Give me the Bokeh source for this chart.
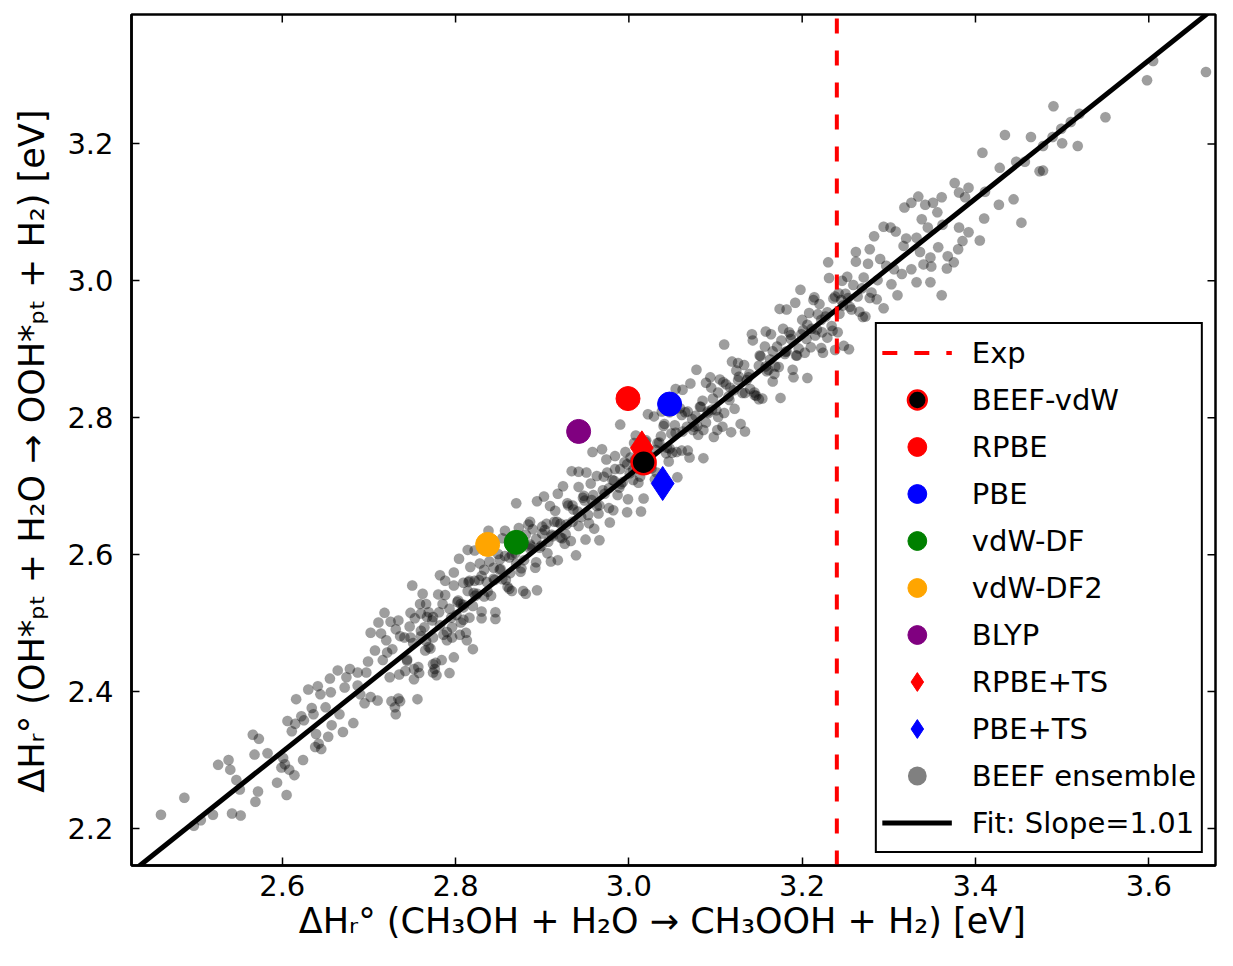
import math
from bokeh.plotting import figure
from bokeh.models import (Range1d, Legend, LegendItem,
                          FixedTicker, NumeralTickFormatter, ColumnDataSource)
from bokeh.embed import file_html
from bokeh.resources import INLINE

# ---------------- data ----------------
x_ticks = [2.6, 2.8, 3.0, 3.2, 3.4, 3.6]
y_ticks = [2.2, 2.4, 2.6, 2.8, 3.0, 3.2]
x_limits = (2.426, 3.677)
y_limits = (2.146, 3.389)

exp_value = 3.24
fit_slope = 1.01
fit_intercept = -0.314

methods = ["BEEF-vdW", "RPBE", "PBE", "vdW-DF", "vdW-DF2", "BLYP", "RPBE+TS", "PBE+TS"]
method_x = [3.017, 2.999, 3.047, 2.870, 2.837, 2.942, 3.015, 3.039]
method_y = [2.735, 2.828, 2.820, 2.618, 2.615, 2.780, 2.756, 2.704]

# BEEF ensemble points (x, y)
ensemble_lower = [
    (2.460, 2.220), (2.487, 2.245), (2.498, 2.204), (2.506, 2.212), (2.520, 2.220),
    (2.526, 2.293), (2.538, 2.300), (2.540, 2.286), (2.542, 2.222), (2.547, 2.271),
    (2.551, 2.257), (2.552, 2.219), (2.566, 2.337), (2.573, 2.331), (2.569, 2.239),
    (2.572, 2.254), (2.568, 2.308), (2.583, 2.310), (2.594, 2.267), (2.601, 2.303),
    (2.603, 2.294), (2.599, 2.289), (2.605, 2.249), (2.608, 2.286), (2.614, 2.278),
    (2.611, 2.342), (2.606, 2.357), (2.616, 2.389), (2.624, 2.300), (2.615, 2.353),
    (2.622, 2.364), (2.625, 2.358), (2.630, 2.403), (2.634, 2.376), (2.636, 2.367),
    (2.639, 2.338), (2.638, 2.319), (2.642, 2.324), (2.645, 2.316), (2.641, 2.408),
    (2.644, 2.396), (2.650, 2.377), (2.653, 2.334), (2.655, 2.419), (2.656, 2.399),
    (2.657, 2.351), (2.664, 2.431), (2.666, 2.367), (2.670, 2.341), (2.672, 2.406),
    (2.674, 2.421), (2.678, 2.433), (2.682, 2.354), (2.687, 2.428), (2.687, 2.409),
    (2.690, 2.396), (2.695, 2.383), (2.697, 2.428), (2.699, 2.444), (2.702, 2.392),
    (2.707, 2.460), (2.711, 2.501), (2.714, 2.485), (2.716, 2.446), (2.720, 2.475),
    (2.721, 2.457), (2.724, 2.421), (2.725, 2.502), (2.727, 2.462), (2.731, 2.491),
    (2.730, 2.377), (2.731, 2.367), (2.734, 2.390), (2.736, 2.386), (2.735, 2.425),
    (2.736, 2.481), (2.744, 2.447), (2.747, 2.495), (2.748, 2.479), (2.752, 2.418),
    (2.752, 2.433), (2.756, 2.389), (2.759, 2.528), (2.760, 2.514), (2.764, 2.494),
    (2.765, 2.460), (2.769, 2.465), (2.773, 2.504), (2.774, 2.440), (2.776, 2.433),
    (2.778, 2.424), (2.784, 2.446), (2.786, 2.483), (2.793, 2.427), (2.796, 2.494),
    (2.798, 2.450), (2.805, 2.483), (2.809, 2.527), (2.816, 2.508), (2.820, 2.462),
    (2.813, 2.475),
]
ensemble_middle = [
    (2.741, 2.479), (2.744, 2.445), (2.748, 2.515), (2.751, 2.471), (2.753, 2.507),
    (2.757, 2.436), (2.760, 2.489), (2.762, 2.543), (2.766, 2.474), (2.769, 2.516),
    (2.771, 2.463), (2.774, 2.509), (2.777, 2.442), (2.780, 2.542), (2.782, 2.497),
    (2.785, 2.528), (2.788, 2.562), (2.790, 2.487), (2.793, 2.521), (2.796, 2.479),
    (2.798, 2.555), (2.801, 2.512), (2.804, 2.594), (2.806, 2.528), (2.809, 2.559),
    (2.812, 2.486), (2.814, 2.547), (2.817, 2.582), (2.820, 2.525), (2.822, 2.562),
    (2.825, 2.543), (2.828, 2.587), (2.830, 2.517), (2.833, 2.578), (2.836, 2.560),
    (2.838, 2.609), (2.841, 2.540), (2.844, 2.581), (2.846, 2.516), (2.849, 2.601),
    (2.852, 2.579), (2.854, 2.564), (2.857, 2.635), (2.860, 2.553), (2.862, 2.596),
    (2.865, 2.547), (2.868, 2.623), (2.870, 2.587), (2.873, 2.639), (2.876, 2.580),
    (2.878, 2.619), (2.881, 2.543), (2.884, 2.644), (2.886, 2.609), (2.889, 2.637),
    (2.892, 2.581), (2.894, 2.678), (2.897, 2.610), (2.900, 2.631),
    (2.903, 2.636), (2.906, 2.602), (2.909, 2.671), (2.912, 2.627), (2.915, 2.664),
    (2.918, 2.592), (2.921, 2.645), (2.924, 2.700), (2.927, 2.630), (2.930, 2.672),
    (2.933, 2.620), (2.936, 2.666), (2.939, 2.599), (2.942, 2.699), (2.945, 2.655),
    (2.948, 2.686), (2.951, 2.720), (2.954, 2.646), (2.957, 2.680), (2.960, 2.638),
    (2.963, 2.715), (2.966, 2.672), (2.969, 2.754), (2.972, 2.689), (2.975, 2.720),
    (2.978, 2.647), (2.981, 2.709), (2.984, 2.744), (2.987, 2.687), (2.990, 2.725),
    (2.993, 2.706), (2.996, 2.750), (2.999, 2.681), (3.002, 2.742), (3.005, 2.724),
    (3.008, 2.774), (3.011, 2.705), (3.014, 2.746), (3.017, 2.682), (3.020, 2.767),
    (3.023, 2.745), (3.026, 2.731), (3.029, 2.802), (3.032, 2.720), (3.035, 2.764),
    (3.038, 2.715), (3.041, 2.791), (3.044, 2.756), (3.047, 2.808), (3.050, 2.749),
    (3.053, 2.789), (3.056, 2.713), (3.059, 2.814), (3.062, 2.780), (3.065, 2.808),
    (3.068, 2.752), (3.071, 2.850), (3.074, 2.782), (3.077, 2.803), (3.080, 2.775),
    (3.083, 2.816), (3.086, 2.782), (3.089, 2.851), (3.092, 2.807), (3.095, 2.844),
    (3.098, 2.772),
    (3.101, 2.811), (3.105, 2.856), (3.108, 2.787), (3.112, 2.849), (3.115, 2.831),
    (3.119, 2.882), (3.122, 2.813), (3.126, 2.855), (3.129, 2.791), (3.133, 2.877),
    (3.136, 2.855), (3.140, 2.842), (3.143, 2.913), (3.147, 2.832), (3.150, 2.876),
    (3.154, 2.828), (3.157, 2.904), (3.161, 2.870), (3.164, 2.922), (3.168, 2.864),
    (3.171, 2.904), (3.175, 2.829), (3.178, 2.930), (3.182, 2.897), (3.185, 2.925),
    (3.189, 2.870), (3.192, 2.968), (3.196, 2.901), (3.199, 2.922), (3.203, 2.895),
    (3.206, 2.936), (3.210, 2.903), (3.213, 2.972), (3.217, 2.929), (3.220, 2.966),
    (3.224, 2.895), (3.227, 2.948), (3.231, 3.004), (3.234, 2.934), (3.238, 2.977),
    (3.241, 2.925), (3.245, 2.972), (3.248, 2.905), (3.252, 3.006), (3.255, 2.962),
    (3.259, 2.994), (3.262, 3.028), (3.266, 2.955), (3.269, 2.989), (3.273, 2.948),
    (3.276, 3.025), (3.280, 2.983), (3.283, 3.065), (3.287, 3.001), (3.290, 3.032),
    (3.294, 2.960), (3.297, 3.022),
]
ensemble_core = [
    (2.803, 2.533), (2.809, 2.523), (2.815, 2.560), (2.821, 2.544), (2.827, 2.563),
    (2.833, 2.539), (2.839, 2.590), (2.845, 2.563), (2.851, 2.578), (2.857, 2.598),
    (2.863, 2.573), (2.869, 2.602), (2.875, 2.575), (2.881, 2.629), (2.887, 2.612),
    (2.893, 2.623), (2.899, 2.613), (2.905, 2.645), (2.911, 2.629), (2.917, 2.648),
    (2.923, 2.624), (2.929, 2.675), (2.935, 2.648), (2.941, 2.663), (2.947, 2.683),
    (2.953, 2.658), (2.959, 2.687), (2.965, 2.660), (2.971, 2.714), (2.977, 2.697),
    (2.983, 2.708), (2.989, 2.698), (2.995, 2.735), (3.001, 2.719), (3.007, 2.738),
    (3.013, 2.714), (3.019, 2.765), (3.025, 2.738), (3.031, 2.753), (3.037, 2.773),
    (3.043, 2.748), (3.049, 2.777), (3.055, 2.750), (3.061, 2.804), (3.067, 2.787),
    (3.073, 2.798), (3.079, 2.788), (3.085, 2.825), (3.091, 2.809), (3.097, 2.828),
    (3.103, 2.801), (3.109, 2.852), (3.116, 2.826), (3.121, 2.840), (3.127, 2.860),
    (3.134, 2.836), (3.139, 2.864), (3.145, 2.837), (3.151, 2.891), (3.158, 2.875),
    (3.163, 2.885), (3.169, 2.875), (3.176, 2.913), (3.181, 2.896), (3.187, 2.915),
    (3.193, 2.891), (3.200, 2.943), (3.205, 2.915), (3.211, 2.930), (3.218, 2.951),
    (3.223, 2.925), (3.229, 2.954), (3.235, 2.927), (3.242, 2.982), (3.247, 2.964),
    (3.253, 2.975),
]
ensemble_wide = [
    (2.702, 2.486), (2.710, 2.387), (2.718, 2.515), (2.726, 2.386), (2.734, 2.504),
    (2.742, 2.430), (2.750, 2.555), (2.758, 2.427), (2.766, 2.528), (2.774, 2.428),
    (2.782, 2.570), (2.790, 2.475), (2.798, 2.574), (2.806, 2.501), (2.814, 2.607),
    (2.822, 2.606), (2.830, 2.507), (2.838, 2.635), (2.846, 2.506), (2.854, 2.624),
    (2.862, 2.550), (2.870, 2.675), (2.878, 2.547), (2.886, 2.648), (2.894, 2.548),
    (2.902, 2.685), (2.910, 2.590), (2.918, 2.689), (2.926, 2.616), (2.934, 2.722),
    (2.942, 2.721), (2.950, 2.622), (2.958, 2.750), (2.966, 2.621), (2.974, 2.739),
    (2.982, 2.665), (2.990, 2.790), (2.998, 2.662), (3.006, 2.763), (3.014, 2.663),
    (3.022, 2.805), (3.030, 2.710), (3.038, 2.809), (3.046, 2.736), (3.054, 2.842),
    (3.062, 2.841), (3.070, 2.742), (3.078, 2.870), (3.086, 2.741), (3.094, 2.859),
    (3.102, 2.782), (3.110, 2.907), (3.118, 2.779), (3.126, 2.880), (3.134, 2.780),
    (3.142, 2.922), (3.150, 2.827), (3.158, 2.926), (3.166, 2.853), (3.174, 2.959),
    (3.182, 2.958), (3.190, 2.859), (3.198, 2.987), (3.206, 2.858), (3.214, 2.976),
    (3.222, 2.902), (3.230, 3.027), (3.238, 2.899), (3.246, 3.000), (3.254, 2.900),
    (3.262, 3.042), (3.270, 2.947), (3.278, 3.046), (3.286, 2.973), (3.294, 3.079),
    (3.302, 3.078), (3.310, 2.979), (3.318, 3.107),
]
ensemble_core2 = [
    (2.760, 2.481), (2.767, 2.509), (2.774, 2.479), (2.781, 2.516), (2.788, 2.541),
    (2.795, 2.508), (2.802, 2.531), (2.809, 2.505), (2.816, 2.562), (2.823, 2.540),
    (2.830, 2.569), (2.837, 2.546), (2.844, 2.565), (2.851, 2.593), (2.858, 2.563),
    (2.865, 2.600), (2.872, 2.625), (2.879, 2.592), (2.886, 2.615), (2.893, 2.589),
    (2.900, 2.641), (2.907, 2.619), (2.914, 2.648), (2.921, 2.625), (2.928, 2.644),
    (2.935, 2.672), (2.942, 2.642), (2.949, 2.679), (2.956, 2.704), (2.963, 2.671),
    (2.970, 2.694), (2.977, 2.668), (2.984, 2.725), (2.991, 2.703), (2.998, 2.732),
    (3.005, 2.709), (3.012, 2.728), (3.019, 2.756), (3.026, 2.726), (3.033, 2.763),
    (3.040, 2.788), (3.047, 2.755), (3.054, 2.778), (3.061, 2.752), (3.068, 2.809),
    (3.075, 2.787), (3.082, 2.816), (3.089, 2.793), (3.096, 2.812), (3.103, 2.837),
    (3.110, 2.807), (3.117, 2.844), (3.124, 2.869), (3.131, 2.836), (3.138, 2.859),
    (3.145, 2.833), (3.152, 2.890), (3.159, 2.868), (3.166, 2.897), (3.173, 2.874),
    (3.180, 2.893), (3.187, 2.921), (3.194, 2.891), (3.201, 2.928), (3.208, 2.953),
    (3.215, 2.920), (3.222, 2.943), (3.229, 2.917), (3.236, 2.974), (3.243, 2.952),
    (3.250, 2.981), (3.257, 2.958), (3.264, 2.977), (3.271, 3.005), (3.278, 2.975),
]
ensemble_upper = [
    (3.666, 3.305), (3.605, 3.321), (3.598, 3.293), (3.550, 3.239), (3.520, 3.244),
    (3.490, 3.255), (3.510, 3.232), (3.499, 3.222), (3.489, 3.210), (3.518, 3.197),
    (3.500, 3.201), (3.464, 3.210), (3.478, 3.197), (3.434, 3.213), (3.408, 3.187),
    (3.428, 3.165), (3.447, 3.174), (3.457, 3.174), (3.474, 3.160), (3.478, 3.161),
    (3.444, 3.119), (3.453, 3.085), (3.427, 3.111), (3.411, 3.130), (3.410, 3.091),
    (3.376, 3.143), (3.381, 3.129), (3.392, 3.136), (3.388, 3.122), (3.361, 3.122),
    (3.351, 3.114), (3.342, 3.111), (3.334, 3.123), (3.326, 3.114), (3.356, 3.100),
    (3.338, 3.090), (3.345, 3.078), (3.362, 3.082), (3.381, 3.078), (3.392, 3.071),
    (3.405, 3.059), (3.385, 3.058), (3.380, 3.046), (3.368, 3.036), (3.375, 3.027),
    (3.367, 3.018), (3.357, 3.049), (3.348, 3.034), (3.349, 3.021), (3.340, 3.024),
    (3.332, 3.063), (3.320, 3.062), (3.317, 3.051), (3.308, 3.072), (3.326, 3.017),
    (3.332, 2.998), (3.348, 2.998), (3.361, 2.979), (3.336, 3.042), (3.315, 3.010),
    (3.306, 3.017), (3.303, 2.995),
]

# ---------------- styles ----------------
FONT = "DejaVu Sans"
method_colors = ["black", "red", "blue", "green", "orange", "purple", "red", "blue"]
method_markers = ["circle", "circle", "circle", "circle", "circle", "circle", "diamond", "diamond"]

p = figure(width=1217, height=950, output_backend="svg", toolbar_location=None,
           x_range=Range1d(*x_limits), y_range=Range1d(*y_limits),
           min_border_left=131, min_border_top=14, min_border_right=2,
           min_border_bottom=85)
p.grid.visible = False
p.outline_line_color = "black"
p.outline_line_width = 2.5
p.background_fill_color = "white"

ens = (ensemble_lower + ensemble_middle + ensemble_core + ensemble_wide
       + ensemble_core2 + ensemble_upper)
ens_src = ColumnDataSource(data=dict(x=[a for a, b in ens], y=[b for a, b in ens]))
p.scatter("x", "y", source=ens_src, size=10.5, fill_color="black", fill_alpha=0.38,
          line_color="black", line_alpha=0.05)
# legend stand-in for the ensemble (zero size in the plot itself)
ens_proxy = p.scatter("x", "y", source=ens_src, size=0, fill_color="gray",
                      fill_alpha=1.0, line_alpha=0)

# fit line across the full x range
fit_x = list(x_limits)
fit_y = [fit_slope * v + fit_intercept for v in fit_x]
fit_r = p.line(fit_x, fit_y, line_color="black", line_width=5)

# experimental value
exp_r = p.line([exp_value, exp_value], list(y_limits), line_color="red",
               line_width=4, line_dash="15 17")

renderers = {}
draw_order = ["RPBE", "PBE", "vdW-DF", "vdW-DF2", "BLYP", "RPBE+TS", "PBE+TS", "BEEF-vdW"]
for name in draw_order:
    i = methods.index(name)
    mk = method_markers[i]
    col = method_colors[i]
    edge = "red" if name == "BEEF-vdW" else col
    r = p.scatter([method_x[i]], [method_y[i]], marker=mk,
                  size=34 if mk == "diamond" else 24,
                  fill_color=col, line_color=edge,
                  line_width=2.5 if name == "BEEF-vdW" else 1)
    renderers[name] = r

# inward tick marks along the top and right edges of the frame
p.scatter(x_ticks, [y_limits[1]] * len(x_ticks), marker="dash", angle=math.pi / 2,
          size=16, line_color="black", line_width=1.5)
p.scatter([x_limits[1]] * len(y_ticks), y_ticks, marker="dash",
          size=16, line_color="black", line_width=1.5)

items = [LegendItem(label="Exp", renderers=[exp_r])]
for name in methods:
    items.append(LegendItem(label=name, renderers=[renderers[name]]))
items.append(LegendItem(label="BEEF ensemble", renderers=[ens_proxy]))
items.append(LegendItem(label=f"Fit: Slope={fit_slope:.2f}", renderers=[fit_r]))

legend = Legend(items=items, location="bottom_right", margin=12, padding=5,
                spacing=0, glyph_width=70, glyph_height=47, label_standoff=20,
                label_height=47,
                label_text_font=FONT, label_text_font_size="29px",
                label_text_color="black",
                border_line_color="black", border_line_width=2, border_line_alpha=1.0,
                background_fill_alpha=1.0)
p.add_layout(legend)

# axes
for ax, ticks in ((p.xaxis[0], x_ticks), (p.yaxis[0], y_ticks)):
    ax.ticker = FixedTicker(ticks=ticks)
    ax.formatter = NumeralTickFormatter(format="0.0")
    ax.major_tick_in = 8
    ax.major_tick_out = 0
    ax.major_tick_line_width = 1.5
    ax.minor_tick_line_color = None
    ax.axis_line_width = 2.5
    ax.major_label_text_font = FONT
    ax.major_label_text_font_size = "29px"
    ax.major_label_text_color = "black"
    ax.axis_label_text_font = FONT
    ax.axis_label_text_font_size = "35px"
    ax.axis_label_text_font_style = "normal"
    ax.axis_label_text_color = "black"

p.xaxis[0].major_label_standoff = 9
p.yaxis[0].major_label_standoff = 18
p.xaxis[0].axis_label_standoff = 2
p.yaxis[0].axis_label_standoff = 12
p.xaxis[0].axis_label = "ΔHᵣ°   (CH₃OH + H₂O → CH₃OOH + H₂) [eV]"
p.yaxis[0].axis_label = "ΔHᵣ°   (OH*ₚₜ + H₂O → OOH*ₚₜ + H₂) [eV]"

open("out.html", "w").write(file_html(p, INLINE))
